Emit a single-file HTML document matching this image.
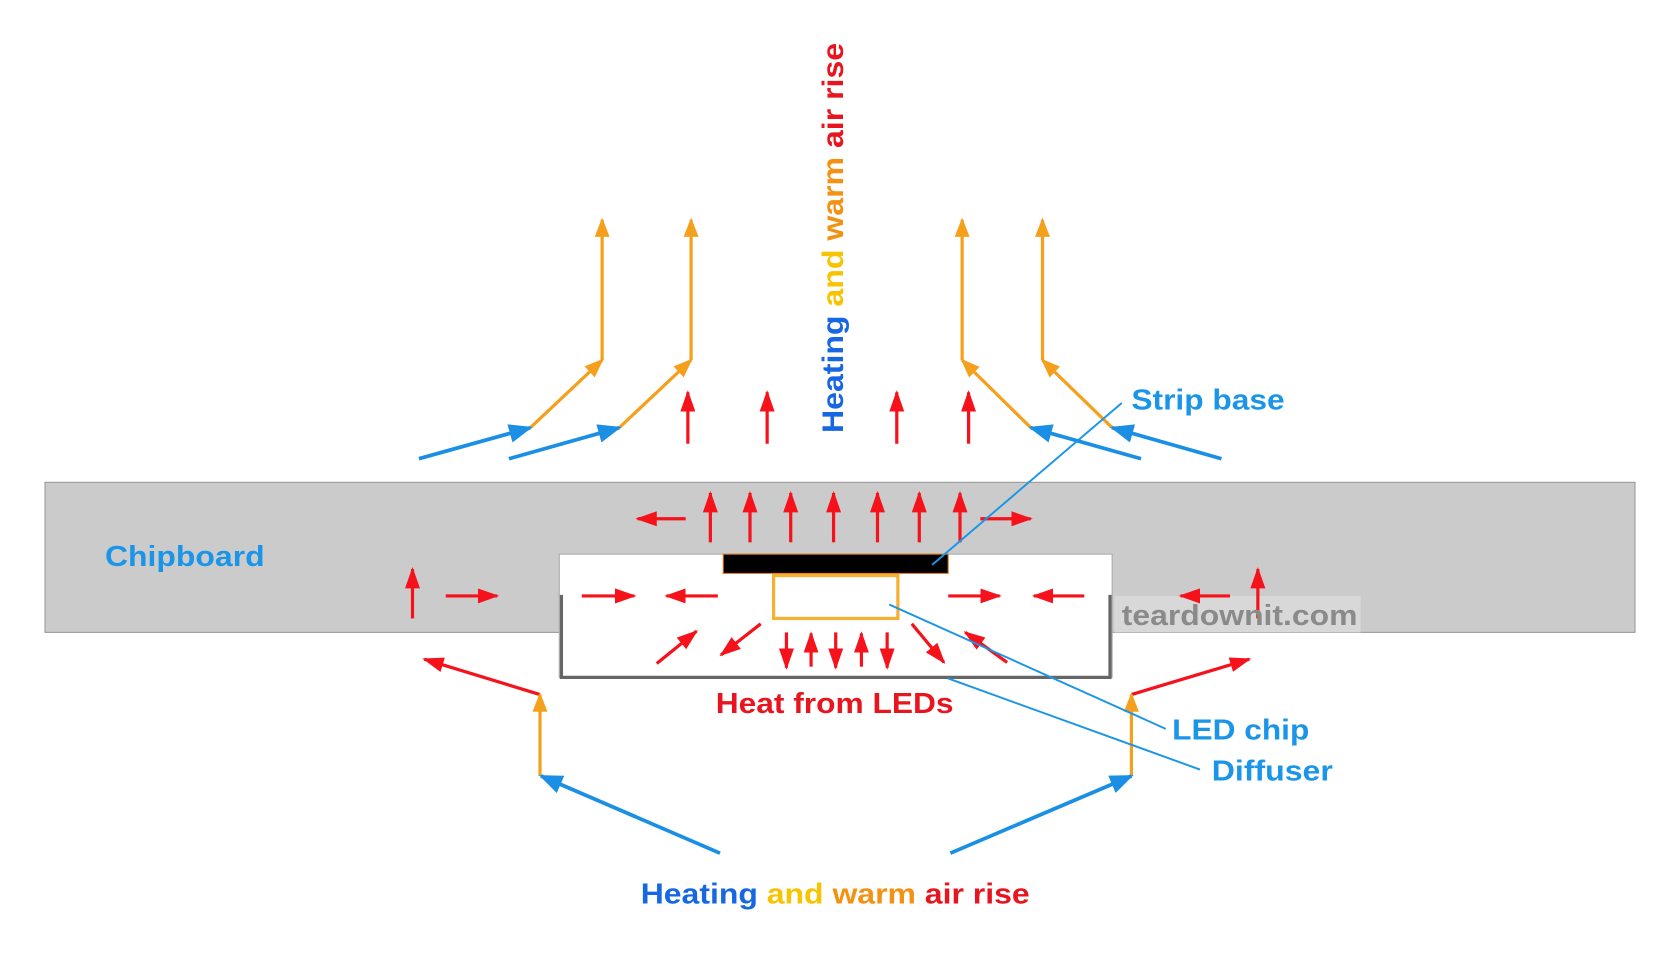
<!DOCTYPE html>
<html><head><meta charset="utf-8"><style>
html,body{margin:0;padding:0;background:#fff;width:1680px;height:955px;overflow:hidden}
svg{display:block}
text{font-family:"Liberation Sans",Arial,sans-serif;font-weight:bold}
</style></head><body>
<svg width="1680" height="955" viewBox="0 0 1568 891" preserveAspectRatio="none" xmlns="http://www.w3.org/2000/svg">
<defs>
<marker id="r" markerUnits="userSpaceOnUse" markerWidth="20" markerHeight="20" viewBox="0 0 20 20" refX="18" refY="10" orient="auto"><path d="M0,3 L20,10 L0,17 Z" fill="#f5121b"/></marker>
<marker id="o" markerUnits="userSpaceOnUse" markerWidth="20" markerHeight="20" viewBox="0 0 20 20" refX="18" refY="10" orient="auto"><path d="M2,3 L20,10 L2,17 Z" fill="#f5a01c"/></marker>
<marker id="b" markerUnits="userSpaceOnUse" markerWidth="22" markerHeight="22" viewBox="0 0 20 20" refX="18" refY="10" orient="auto"><path d="M0,2 L20,10 L0,18 Z" fill="#1a8fe3"/></marker>
</defs>
<!-- chipboard -->
<rect x="42" y="450" width="1484" height="140" fill="#cbcbcb" stroke="#999" stroke-width="1"/>
<!-- diffuser box -->
<rect x="522" y="517" width="516" height="115" fill="#fff" stroke="#aaa" stroke-width="1"/>
<path d="M524,555 V632 H1036 V555" fill="none" stroke="#666" stroke-width="3"/>
<rect x="1040" y="556" width="230" height="34" fill="#d8d8d8"/>
<!-- strip base & LED -->
<rect x="675" y="517" width="210" height="18" fill="#000" stroke="#e87a1a" stroke-width="1"/>
<rect x="722" y="537" width="116" height="40" fill="#fff" stroke="#f5b032" stroke-width="3"/>
<g stroke="#f5121b" stroke-width="3" fill="none" marker-end="url(#r)">
<line x1="640" y1="484" x2="595" y2="484"/>
<line x1="663" y1="506" x2="663" y2="460"/>
<line x1="700" y1="506" x2="700" y2="460"/>
<line x1="738" y1="506" x2="738" y2="460"/>
<line x1="778" y1="506" x2="778" y2="460"/>
<line x1="819" y1="506" x2="819" y2="460"/>
<line x1="858" y1="506" x2="858" y2="460"/>
<line x1="896" y1="506" x2="896" y2="460"/>
<line x1="915" y1="484" x2="962" y2="484"/>
<line x1="385" y1="577" x2="385" y2="531"/>
<line x1="416" y1="556" x2="464" y2="556"/>
<line x1="1148" y1="556" x2="1102" y2="556"/>
<line x1="1174" y1="577" x2="1174" y2="531"/>
<line x1="543" y1="556" x2="592" y2="556"/>
<line x1="670" y1="556" x2="622" y2="556"/>
<line x1="885" y1="556" x2="933" y2="556"/>
<line x1="1012" y1="556" x2="965" y2="556"/>
<line x1="613" y1="619" x2="650" y2="589"/>
<line x1="710" y1="582" x2="673" y2="611"/>
<line x1="734" y1="590" x2="734" y2="623"/>
<line x1="757" y1="622" x2="757" y2="591"/>
<line x1="780" y1="590" x2="780" y2="623"/>
<line x1="804" y1="622" x2="804" y2="591"/>
<line x1="828" y1="590" x2="828" y2="623"/>
<line x1="851" y1="582" x2="881" y2="618"/>
<line x1="940" y1="618" x2="901" y2="590"/>
<line x1="642" y1="414" x2="642" y2="366"/>
<line x1="716" y1="414" x2="716" y2="366"/>
<line x1="837" y1="414" x2="837" y2="366"/>
<line x1="904" y1="414" x2="904" y2="366"/>
<line x1="504" y1="648" x2="396" y2="615"/>
<line x1="1056" y1="648" x2="1166" y2="615"/>
</g>
<g stroke="#f5a01c" stroke-width="3" fill="none" marker-end="url(#o)">
<line x1="504" y1="724" x2="504" y2="648"/>
<line x1="1056" y1="724" x2="1056" y2="648"/>
<line x1="495" y1="399" x2="562" y2="336"/>
<line x1="562" y1="336" x2="562" y2="205"/>
<line x1="578" y1="399" x2="645" y2="336"/>
<line x1="645" y1="336" x2="645" y2="205"/>
<line x1="962" y1="399" x2="898" y2="336"/>
<line x1="898" y1="336" x2="898" y2="205"/>
<line x1="1038" y1="399" x2="973" y2="336"/>
<line x1="973" y1="336" x2="973" y2="205"/>
</g>
<g stroke="#1a8fe3" stroke-width="3.5" fill="none" marker-end="url(#b)">
<line x1="672" y1="796" x2="505" y2="724"/>
<line x1="887" y1="796" x2="1056" y2="724"/>
<line x1="391" y1="428" x2="495" y2="399"/>
<line x1="475" y1="428" x2="578" y2="399"/>
<line x1="1065" y1="428" x2="962" y2="399"/>
<line x1="1140" y1="428" x2="1038" y2="399"/>
</g>
<!-- leaders -->
<g stroke="#1a95e8" stroke-width="1.8" fill="none">
<line x1="1047" y1="376" x2="870" y2="527"/>
<line x1="830" y1="564" x2="1088" y2="680"/>
<line x1="885" y1="633" x2="1120" y2="718"/>
</g>
<!-- labels -->
<text x="1056" y="382" font-size="27" fill="#1a95e8" textLength="143" lengthAdjust="spacingAndGlyphs">Strip base</text>
<text x="98" y="528" font-size="27" fill="#1a95e8" textLength="149" lengthAdjust="spacingAndGlyphs">Chipboard</text>
<text x="1047" y="583" font-size="27" fill="#8a8a8a" textLength="220" lengthAdjust="spacingAndGlyphs">teardownit.com</text>
<text x="668" y="665" font-size="27" fill="#e8141e" textLength="222" lengthAdjust="spacingAndGlyphs">Heat from LEDs</text>
<text x="1094" y="690" font-size="27" fill="#1a95e8" textLength="128" lengthAdjust="spacingAndGlyphs">LED chip</text>
<text x="1131" y="728" font-size="27" fill="#1a95e8" textLength="113" lengthAdjust="spacingAndGlyphs">Diffuser</text>
<text x="598" y="843" font-size="27" textLength="363" lengthAdjust="spacingAndGlyphs"><tspan fill="#1767e3">Heating </tspan><tspan fill="#f8c300">and </tspan><tspan fill="#f39212">warm </tspan><tspan fill="#e8141e">air rise</tspan></text>
<text transform="translate(787,404) rotate(-90)" font-size="28" textLength="364" lengthAdjust="spacingAndGlyphs"><tspan fill="#1767e3">Heating </tspan><tspan fill="#f8c300">and </tspan><tspan fill="#f39212">warm </tspan><tspan fill="#e8141e">air rise</tspan></text>
</svg>
</body></html>
